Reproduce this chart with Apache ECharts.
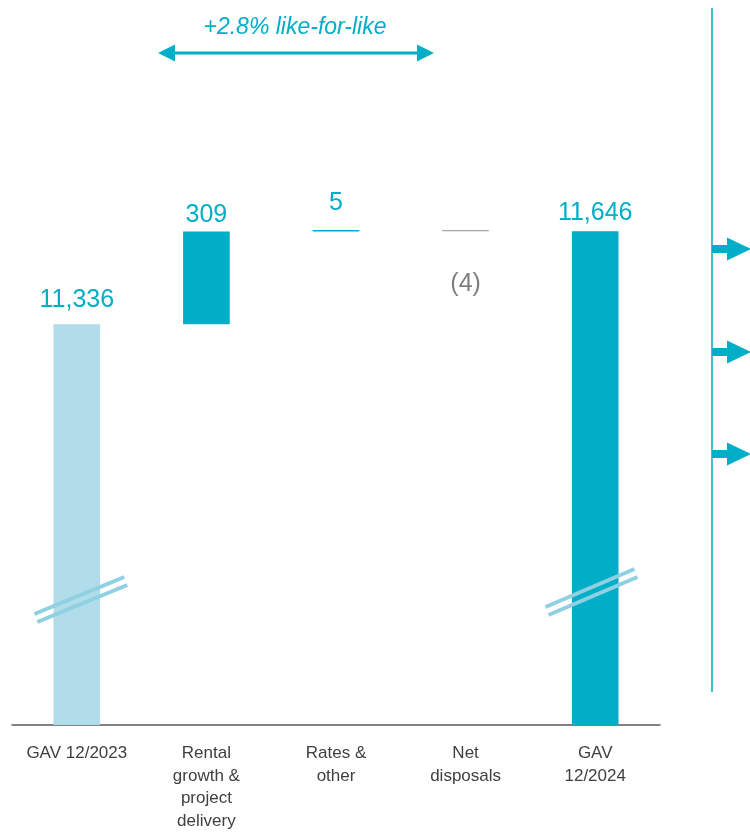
<!DOCTYPE html>
<html>
<head>
<meta charset="utf-8">
<script src="https://cdn.jsdelivr.net/npm/echarts@6/dist/echarts.min.js"></script>
<style>
  html, body { margin: 0; padding: 0; background: #ffffff; }
  #chart { width: 750px; height: 834px; }
</style>
</head>
<body>
<div id="chart"></div>
<script>
// GAV bridge 12/2023 -> 12/2024 (EUR m)
const categories = ['GAV 12/2023', 'Rental\ngrowth &\nproject\ndelivery', 'Rates &\nother', 'Net\ndisposals', 'GAV\n12/2024'];
const steps = [11336, 309, 5, -4, 11646];
const isTotal = [true, false, false, false, true];
const valueLabels = ['11,336', '309', '5', '(4)', '11,646'];
const barColors = ['#b0dde9', '#00aec7', '#00aec7', '#a6a6a6', '#00aec7'];
const labelColors = ['#00aec7', '#00aec7', '#00aec7', '#7f7f7f', '#00aec7'];
const labelDistances = [12, 4, 14, 40, 6];
const lflText = '+2.8% like-for-like';

const FONT = '"Liberation Sans", Arial, Helvetica, sans-serif';
const TEAL = '#00aec7';
const BREAK = '#8fd0e2';

// Running totals: transparent base + visible step
const baseData = [];
const stepData = [];
let running = 0;
steps.forEach((v, i) => {
  if (isTotal[i]) {
    baseData.push(0);
    stepData.push(v);
    running = v;
  } else if (v >= 0) {
    baseData.push(running);
    stepData.push(v);
    running += v;
  } else {
    running += v;
    baseData.push(running);
    stepData.push(-v);
  }
});

const chart = echarts.init(document.getElementById('chart'));

chart.setOption({
  animation: false,
  backgroundColor: '#ffffff',
  grid: { left: 12, right: 90, top: 125, bottom: 109 },
  xAxis: {
    type: 'category',
    data: categories,
    axisLine: { lineStyle: { color: '#595959', width: 1.5 } },
    axisTick: { show: false },
    axisLabel: {
      color: '#404040',
      fontFamily: FONT,
      fontSize: 17,
      lineHeight: 22.7,
      margin: 17,
      interval: 0
    }
  },
  yAxis: {
    type: 'value',
    min: 10000,
    max: 12000,
    show: false,
    splitLine: { show: false }
  },
  series: [
    {
      name: 'base',
      type: 'bar',
      stack: 'bridge',
      barWidth: '36%',
      silent: true,
      itemStyle: { color: 'transparent' },
      data: baseData
    },
    {
      name: 'step',
      type: 'bar',
      stack: 'bridge',
      barWidth: '36%',
      data: stepData.map((v, i) => ({
        value: v,
        itemStyle: { color: barColors[i] },
        label: {
          show: true,
          position: steps[i] < 0 ? 'bottom' : 'top',
          distance: labelDistances[i],
          formatter: valueLabels[i],
          color: labelColors[i],
          fontFamily: FONT,
          fontSize: 25
        }
      }))
    }
  ]
});

// Decorations: axis-break marks across the total bars, like-for-like span, side arrows
function breakMarks(cx, cy, hx, hy) {
  const off = [[-1.5, -4], [1.5, 4]];
  return off.map(([ox, oy]) => ({
    type: 'line',
    shape: { x1: cx + ox - hx, y1: cy + oy + hy, x2: cx + ox + hx, y2: cy + oy - hy },
    style: { stroke: BREAK, lineWidth: 4 },
    z: 100
  }));
}

const x0 = chart.convertToPixel({ xAxisIndex: 0 }, categories[0]);
const x4 = chart.convertToPixel({ xAxisIndex: 0 }, categories[4]);

const graphics = [];
graphics.push(...breakMarks(x0 + 4, 599.5, 45, 18.5));
graphics.push(...breakMarks(x4 - 3.7, 592, 44.5, 19));

// like-for-like double arrow
graphics.push({
  type: 'text',
  style: {
    text: lflText, x: 295, y: 28, align: 'center', verticalAlign: 'middle',
    fill: TEAL, font: 'italic 23px ' + FONT
  }
});
graphics.push({
  type: 'line',
  shape: { x1: 170, y1: 53, x2: 421, y2: 53 },
  style: { stroke: TEAL, lineWidth: 3 }
});
graphics.push({
  type: 'polygon',
  shape: { points: [[158, 53], [175, 44.5], [175, 61.5]] },
  style: { fill: TEAL }
});
graphics.push({
  type: 'polygon',
  shape: { points: [[434, 53], [417, 44.5], [417, 61.5]] },
  style: { fill: TEAL }
});

// right-hand bracket with arrows
graphics.push({
  type: 'line',
  shape: { x1: 712, y1: 8, x2: 712, y2: 692 },
  style: { stroke: TEAL, lineWidth: 1.5 }
});
[249, 352, 454].forEach(y => {
  graphics.push({
    type: 'rect',
    shape: { x: 712, y: y - 4, width: 16, height: 8 },
    style: { fill: TEAL }
  });
  graphics.push({
    type: 'polygon',
    shape: { points: [[727, y - 11.5], [751, y], [727, y + 11.5]] },
    style: { fill: TEAL }
  });
});

chart.setOption({ graphic: graphics });
</script>
</body>
</html>
